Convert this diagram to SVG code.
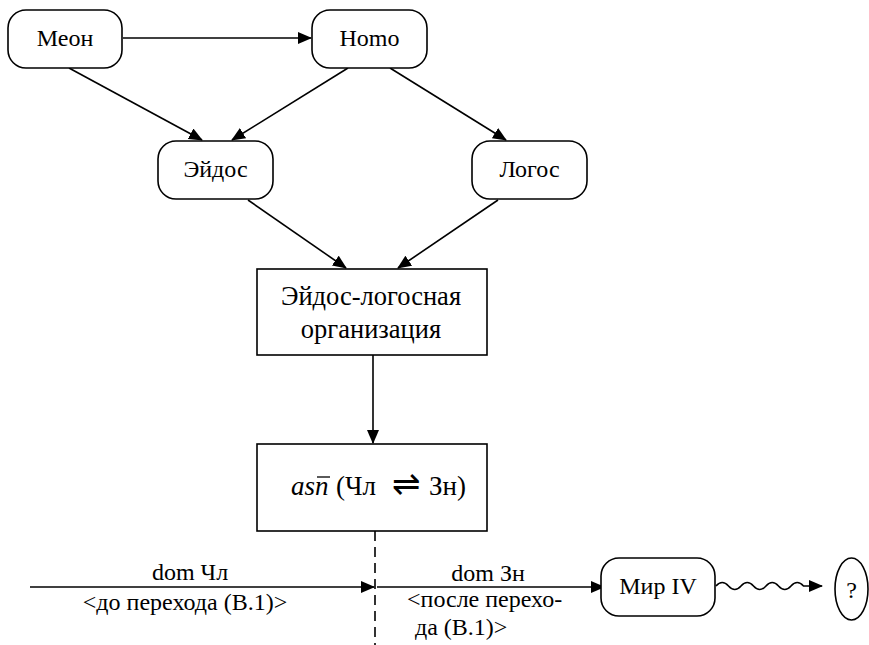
<svg xmlns="http://www.w3.org/2000/svg" width="869" height="645" viewBox="0 0 869 645">
<style>
.n{fill:#fff;stroke:#000;stroke-width:1.6}
.c{fill:none;stroke:#000;stroke-width:1.6}
.m{text-anchor:middle}
</style>
<defs>
<marker id="a" markerUnits="userSpaceOnUse" markerWidth="14" markerHeight="12" refX="13" refY="6" orient="auto">
<path d="M0,0 L14,6 L0,12 Z" fill="#000"/>
</marker>
</defs>
<g font-family="'Liberation Serif', 'Times New Roman', serif" font-size="24" fill="#000">
<g id="connectors">
<line class="c" x1="123" y1="38" x2="311" y2="38" marker-end="url(#a)"/>
<line class="c" x1="69" y1="68" x2="202" y2="140" marker-end="url(#a)"/>
<line class="c" x1="348" y1="68" x2="232" y2="140" marker-end="url(#a)"/>
<line class="c" x1="390" y1="68" x2="506" y2="140" marker-end="url(#a)"/>
<line class="c" x1="248" y1="200" x2="346" y2="268" marker-end="url(#a)"/>
<line class="c" x1="498" y1="200" x2="398" y2="268" marker-end="url(#a)"/>
<line class="c" x1="373" y1="355" x2="373" y2="443" marker-end="url(#a)"/>
<line class="c" x1="375" y1="531" x2="375" y2="645" stroke-dasharray="10,6"/>
<line class="c" x1="30" y1="587" x2="374" y2="587" marker-end="url(#a)"/>
<line class="c" x1="377" y1="587" x2="604" y2="587" marker-end="url(#a)"/>
<path class="c" d="M716,586 q6.25,-7 12.5,0 t12.5,0 t12.5,0 t12.5,0 t12.5,0 t12.5,0 t12.5,0 L822,586" marker-end="url(#a)"/>
<text class="m" x="190" y="580">dom Чл</text>
<text class="m" x="185" y="610">&lt;до перехода (В.1)&gt;</text>
<text class="m" x="488" y="581">dom Зн</text>
<text x="407" y="607">&lt;после перехо-</text>
<text x="415" y="635">да (В.1)&gt;</text>
</g>
<g id="meon">
<rect class="n" x="8" y="10" width="114" height="58" rx="18"/>
<text class="m" x="65" y="46">Меон</text>
</g>
<g id="homo">
<rect class="n" x="312" y="10" width="115" height="58" rx="18"/>
<text class="m" x="369.5" y="46">Homo</text>
</g>
<g id="eidos">
<rect class="n" x="158" y="141" width="115" height="58" rx="18"/>
<text class="m" x="215.5" y="177">Эйдос</text>
</g>
<g id="logos">
<rect class="n" x="472" y="141" width="115" height="58" rx="18"/>
<text class="m" x="529.5" y="177">Логос</text>
</g>
<g id="organization" font-size="26.5">
<rect class="n" x="257" y="269" width="230" height="86"/>
<text class="m" x="371" y="305">Эйдос-логосная</text>
<text class="m" x="371" y="338">организация</text>
</g>
<g id="asn">
<rect class="n" x="257" y="444" width="230" height="87"/>
<text x="291" y="495" font-size="27"><tspan font-style="italic">asn</tspan><tspan x="336">(Чл</tspan><tspan x="392" font-family="'DejaVu Sans', sans-serif" font-weight="200" font-size="34">⇌</tspan><tspan x="429">Зн)</tspan></text>
<line x1="317" y1="477" x2="330" y2="477" stroke="#000" stroke-width="1.3"/>
</g>
<g id="mir4">
<rect class="n" x="601" y="558" width="114" height="58" rx="18"/>
<text class="m" x="658" y="594">Мир IV</text>
</g>
<g id="question">
<ellipse class="n" cx="851.5" cy="589" rx="16.5" ry="31"/>
<text class="m" x="851.5" y="598">?</text>
</g>
</g>
</svg>
